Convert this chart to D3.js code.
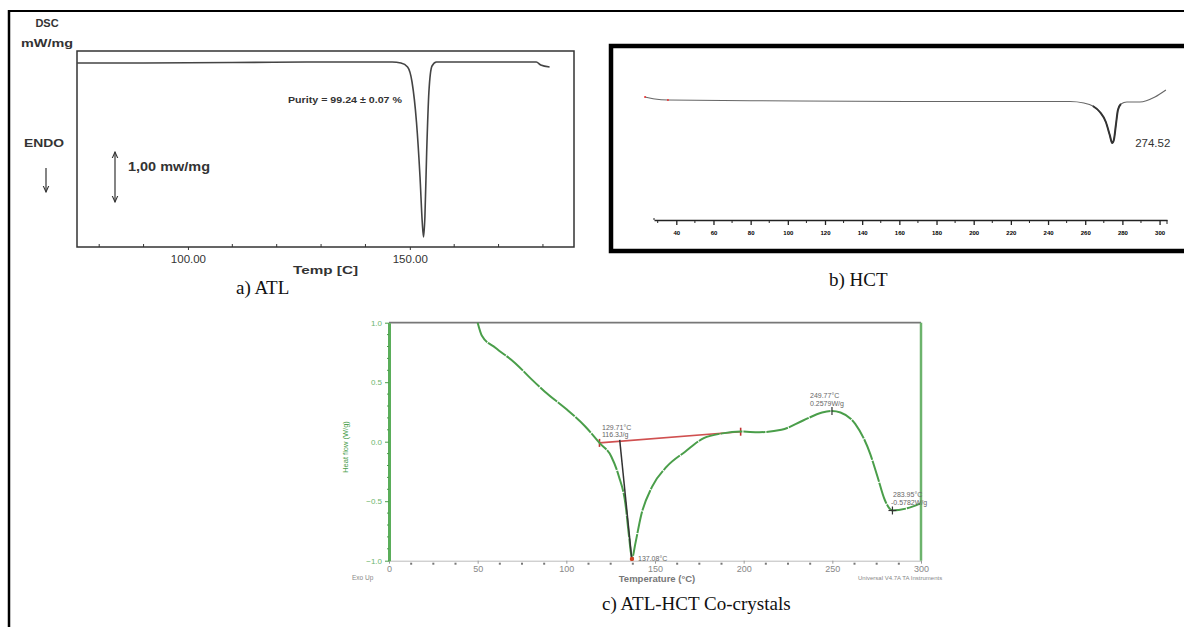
<!DOCTYPE html>
<html>
<head>
<meta charset="utf-8">
<title>DSC thermograms</title>
<script src="https://cdn.jsdelivr.net/npm/d3@7"></script>
<style>
  body { margin: 0; background: #fff; }
  svg { display: block; font-family: "Liberation Sans", Arial, sans-serif; }
  .cap { font-family: "Liberation Serif", "Times New Roman", serif; font-size: 19px; fill: #111; }
</style>
</head>
<body>
<div id="chart"></div>
<script>
// ---- a) ATL ----
const atlTemp = [75, 90, 110, 130, 140, 146, 148, 149.5, 150.5, 151.5, 152.3, 152.8, 153.1, 153.4, 153.8, 154.3, 155, 156, 165, 178.5, 179.5, 181.5];
const atlFlow = [-0.02, -0.02, -0.01, 0, 0, 0, -0.02, -0.1, -0.4, -1.2, -2.3, -3.2, -3.5, -3.1, -1.8, -0.6, -0.08, 0, 0, 0, -0.06, -0.1];
const atlTicks = [100, 150];
const atlMinor = [80, 90, 110, 120, 130, 140, 160, 170, 180];

// ---- b) HCT ----
const hctTemp = [23.2, 28.5, 35.5, 106.5, 187.2, 251.8, 259.3, 264.1, 267.9, 271.1, 273.2, 274.5, 275.4, 276.5, 277.6, 279.2, 282.4, 289.4, 297.5, 303.4];
const hctFlow = [0.3, 0.1, 0, -0.1, -0.15, -0.15, -0.3, -0.6, -1.2, -2.2, -3.5, -4.3, -4.0, -2.5, -1.0, -0.4, -0.2, -0.2, 0.3, 1.0];
const hctTicks = [40, 60, 80, 100, 120, 140, 160, 180, 200, 220, 240, 260, 280, 300];
const hctMinor = [30, 50, 70, 90, 110, 130, 150, 170, 190, 210, 230, 250, 270, 290];
const hctPeak = ["274.52"];

// ---- c) ATL-HCT co-crystals ----
const coTemp = [50, 52.4, 60, 71.2, 80, 87.9, 100.3, 110.8, 118.7, 125.4, 129.6, 133.3, 135.4, 137.0, 139, 142, 148.3, 156.6, 167, 177.5, 188, 198.4, 208.8, 221.3, 233.8, 244.2, 249.8, 254.6, 262.9, 271.3, 275.4, 279.6, 283.9, 292.1, 299.4];
const coFlow = [1.0, 0.89, 0.79, 0.66, 0.53, 0.42, 0.27, 0.126, -0.01, -0.126, -0.29, -0.52, -0.80, -0.98, -0.85, -0.63, -0.38, -0.21, -0.084, 0.03, 0.07, 0.085, 0.08, 0.10, 0.18, 0.245, 0.258, 0.245, 0.15, -0.10, -0.29, -0.49, -0.578, -0.56, -0.52];
const coXTicks = [0, 50, 100, 150, 200, 250, 300];
const coYTicks = [1.0, 0.5, 0.0, -0.5, -1.0];
const baseTemp = [118.7, 198.3];
const baseFlow = [-0.01, 0.084];
const onsetTemp = [130.1, 137.0];
const onsetFlow = [0.015, -1.0];
const peakTemp = [249.8, 283.9];
const peakFlow = [0.258, -0.578];
const peakLabels = [["249.77°C", "0.2579W/g"], ["283.95°C", "-0.5782W/g"]];
const onsetLabels = ["129.71°C", "116.3J/g"];
const minLabel = "137.08°C";

const W = 1184, H = 627;
const svg = d3.select("#chart").append("svg").attr("width", W).attr("height", H);
const defs = svg.append("defs");
defs.append("marker").attr("id", "arr").attr("viewBox", "0 0 10 10")
  .attr("refX", 9).attr("refY", 5).attr("markerWidth", 6).attr("markerHeight", 6)
  .attr("orient", "auto-start-reverse")
  .append("path").attr("d", "M0,1 L9,5 L0,9").attr("fill", "none").attr("stroke", "#333").attr("stroke-width", 1.5);

// outer frame
svg.append("line").attr("x1", 8).attr("x2", W).attr("y1", 11).attr("y2", 11).attr("stroke", "#000").attr("stroke-width", 2);
svg.append("line").attr("x1", 9).attr("x2", 9).attr("y1", 10).attr("y2", H).attr("stroke", "#000").attr("stroke-width", 2.5);

// ================= a) ATL =================
{
  const x = d3.scaleLinear().domain([75, 187]).range([77, 574]);
  const y = d3.scaleLinear().domain([-3.7, 0.22]).range([247, 51]);
  const g = svg.append("g");
  g.append("rect").attr("x", x(75)).attr("y", y(0.22))
    .attr("width", x(187) - x(75)).attr("height", y(-3.7) - y(0.22))
    .attr("fill", "none").attr("stroke", "#333").attr("stroke-width", 1.5);

  const ax = g.append("g").attr("transform", `translate(0,${y(-3.7)})`)
    .call(d3.axisBottom(x).tickValues(atlTicks).tickFormat(d3.format(".2f")).tickSize(3).tickSizeOuter(0));
  ax.select(".domain").remove();
  ax.selectAll("text").attr("font-size", 11.5).attr("fill", "#333").attr("dy", "0.9em");
  ax.selectAll("line").attr("stroke", "#333");
  g.selectAll(".mt").data(atlMinor).enter().append("line")
    .attr("x1", d => x(d)).attr("x2", d => x(d))
    .attr("y1", y(-3.7)).attr("y2", y(-3.7) - 3).attr("stroke", "#333");

  const line = d3.line().x(d => x(d[0])).y(d => y(d[1])).curve(d3.curveMonotoneX);
  g.append("path").datum(atlTemp.map((t, i) => [t, atlFlow[i]]))
    .attr("d", line).attr("fill", "none").attr("stroke", "#444").attr("stroke-width", 1.6);

  g.append("text").attr("x", 47).attr("y", 27).attr("text-anchor", "middle")
    .attr("font-size", 11).attr("font-weight", "bold").attr("fill", "#333").text("DSC");
  g.append("text").attr("x", 47).attr("y", 47).attr("text-anchor", "middle")
    .attr("font-size", 11).attr("font-weight", "bold").attr("fill", "#333")
    .attr("textLength", 52).attr("lengthAdjust", "spacingAndGlyphs").text("mW/mg");
  g.append("text").attr("x", 44).attr("y", 147).attr("text-anchor", "middle")
    .attr("font-size", 11).attr("font-weight", "bold").attr("fill", "#333")
    .attr("textLength", 40).attr("lengthAdjust", "spacingAndGlyphs").text("ENDO");
  g.append("line").attr("x1", 46).attr("x2", 46).attr("y1", 168).attr("y2", 192)
    .attr("stroke", "#333").attr("stroke-width", 1.2).attr("marker-end", "url(#arr)");
  g.append("line").attr("x1", 115).attr("x2", 115).attr("y1", y(-1.8)).attr("y2", y(-2.8))
    .attr("stroke", "#333").attr("stroke-width", 1.2)
    .attr("marker-start", "url(#arr)").attr("marker-end", "url(#arr)");
  g.append("text").attr("x", 128).attr("y", 171)
    .attr("font-size", 12).attr("font-weight", "bold").attr("fill", "#333")
    .attr("textLength", 82).attr("lengthAdjust", "spacingAndGlyphs").text("1,00 mw/mg");
  g.append("text").attr("x", 288).attr("y", 103)
    .attr("font-size", 8.5).attr("font-weight", "bold").attr("fill", "#333")
    .attr("textLength", 114).attr("lengthAdjust", "spacingAndGlyphs").text("Purity = 99.24 ± 0.07 %");
  g.append("text").attr("x", 293).attr("y", 274)
    .attr("font-size", 11).attr("font-weight", "bold").attr("fill", "#333")
    .attr("textLength", 65).attr("lengthAdjust", "spacingAndGlyphs").text("Temp  [C]");
  g.append("text").attr("class", "cap").attr("x", 236).attr("y", 294).text("a) ATL");
}

// ================= b) HCT =================
{
  const x = d3.scaleLinear().domain([28, 304]).range([654, 1167]);
  const y = d3.scaleLinear().domain([-12, 5]).range([220, 50]);
  const g = svg.append("g");
  g.append("rect").attr("x", 611).attr("y", 46).attr("width", 620).attr("height", 205)
    .attr("fill", "none").attr("stroke", "#000").attr("stroke-width", 4.5);

  const ax = g.append("g").attr("transform", `translate(0,${y(-12)})`)
    .call(d3.axisBottom(x).tickValues(hctTicks).tickFormat(d3.format("d")).tickSize(5).tickSizeOuter(0));
  ax.select(".domain").attr("stroke", "#222").attr("stroke-width", 1.3);
  ax.selectAll("line").attr("stroke", "#222").attr("stroke-width", 1.3);
  ax.selectAll("text").attr("font-size", 6).attr("font-weight", "bold").attr("fill", "#000").attr("dy", "1.1em");
  g.selectAll(".mt").data(hctMinor.filter(d => d >= 28)).enter().append("line")
    .attr("x1", d => x(d)).attr("x2", d => x(d))
    .attr("y1", y(-12)).attr("y2", y(-12) + 3).attr("stroke", "#222");
  g.append("line").attr("x1", x(28)).attr("x2", x(28)).attr("y1", y(-12)).attr("y2", y(-12) - 2).attr("stroke", "#222");
  g.append("line").attr("x1", x(304)).attr("x2", x(304)).attr("y1", y(-12)).attr("y2", y(-12) + 4).attr("stroke", "#222");

  const line = d3.line().x(d => x(d[0])).y(d => y(d[1])).curve(d3.curveMonotoneX);
  g.append("path").datum(hctTemp.map((t, i) => [t, hctFlow[i]]))
    .attr("d", line).attr("fill", "none").attr("stroke", "#666").attr("stroke-width", 1.1);
  const pk = hctFlow.indexOf(d3.min(hctFlow));
  g.append("path").datum(hctTemp.map((t, i) => [t, hctFlow[i]]).slice(pk - 4, pk + 5))
    .attr("d", line).attr("fill", "none").attr("stroke", "#333").attr("stroke-width", 2);
  g.append("circle").attr("cx", x(hctTemp[0])).attr("cy", y(hctFlow[0])).attr("r", 1).attr("fill", "#e33");
  g.append("circle").attr("cx", x(hctTemp[2])).attr("cy", y(hctFlow[2])).attr("r", 1).attr("fill", "#e33");
  g.append("text").attr("x", x(274.5) + 23).attr("y", y(-4.3) + 4)
    .attr("font-size", 11.5).attr("fill", "#333").text(hctPeak[0]);
  g.append("text").attr("class", "cap").attr("x", 829).attr("y", 286).text("b) HCT");
}

// ================= c) ATL-HCT co-crystals =================
{
  const x = d3.scaleLinear().domain([0, 300]).range([389, 921]);
  const y = d3.scaleLinear().domain([-1, 1]).range([560.7, 322.7]);
  const green = "#4a9e4a";
  const g = svg.append("g");

  // bottom axis
  const ax = g.append("g").attr("transform", `translate(0,${y(-1)})`)
    .call(d3.axisBottom(x).tickValues(coXTicks).tickFormat(d3.format("d")).tickSize(3).tickSizeOuter(0));
  ax.select(".domain").attr("stroke", "#bbb");
  ax.selectAll("line").attr("stroke", "#999");
  ax.selectAll("text").attr("font-size", 9).attr("fill", "#888").attr("dy", "0.55em");
  g.selectAll(".xm").data(d3.range(0, 300, 12.5).filter(d => d % 50 !== 0)).enter().append("rect")
    .attr("x", d => x(d) - 1).attr("y", y(-1) + 2).attr("width", 2).attr("height", 2).attr("fill", "#777");

  // top and right frame
  g.append("line").attr("x1", x(0)).attr("x2", x(300)).attr("y1", y(1)).attr("y2", y(1)).attr("stroke", "#777").attr("stroke-width", 1.8);
  g.append("line").attr("x1", x(300)).attr("x2", x(300)).attr("y1", y(1)).attr("y2", y(-1)).attr("stroke", "#6cb36c").attr("stroke-width", 2.5);

  // left axis
  const ay = g.append("g").attr("transform", `translate(${x(0)},0)`)
    .call(d3.axisLeft(y).tickValues(coYTicks).tickFormat(d3.format(".1f")).tickSize(4).tickSizeOuter(0));
  ay.select(".domain").attr("stroke", "#5aad5a").attr("stroke-width", 3);
  ay.selectAll("line").attr("stroke", green);
  ay.selectAll("text").attr("font-size", 8).attr("fill", "#6db56d");
  g.selectAll(".ym").data(d3.range(-1, 1.001, 0.1).filter(d => Math.abs(d * 2 - Math.round(d * 2)) > 0.01)).enter().append("line")
    .attr("x1", x(0) - 2).attr("x2", x(0)).attr("y1", d => y(d)).attr("y2", d => y(d)).attr("stroke", green);
  g.append("text").attr("transform", `translate(348,447) rotate(-90)`).attr("text-anchor", "middle")
    .attr("font-size", 7.5).attr("fill", green).text("Heat flow (W/g)");

  // red baseline and black onset line
  g.append("line").attr("x1", x(baseTemp[0])).attr("x2", x(baseTemp[1]))
    .attr("y1", y(baseFlow[0])).attr("y2", y(baseFlow[1])).attr("stroke", "#d05050").attr("stroke-width", 1.6);
  baseTemp.forEach((t, i) => g.append("line").attr("x1", x(t)).attr("x2", x(t))
    .attr("y1", y(baseFlow[i]) - 4).attr("y2", y(baseFlow[i]) + 4).attr("stroke", "#c03030").attr("stroke-width", 1.6));

  const line = d3.line().x(d => x(d[0])).y(d => y(d[1])).curve(d3.curveMonotoneX);
  g.append("path").datum(coTemp.map((t, i) => [t, coFlow[i]]))
    .attr("d", line).attr("fill", "none").attr("stroke", green).attr("stroke-width", 2)
    .attr("stroke-dasharray", "22,1");

  g.append("line").attr("x1", x(onsetTemp[0])).attr("x2", x(onsetTemp[1]))
    .attr("y1", y(onsetFlow[0])).attr("y2", y(onsetFlow[1])).attr("stroke", "#333").attr("stroke-width", 1.5);
  g.append("circle").attr("cx", x(137.0)).attr("cy", y(-0.985)).attr("r", 2.2).attr("fill", "#d04020");

  // peak markers
  peakTemp.forEach((t, i) => {
    g.append("line").attr("x1", x(t)).attr("x2", x(t)).attr("y1", y(peakFlow[i]) - 4).attr("y2", y(peakFlow[i]) + 4).attr("stroke", "#333").attr("stroke-width", 1.2);
    if (i === 1) g.append("line").attr("x1", x(t) - 4).attr("x2", x(t) + 4).attr("y1", y(peakFlow[i])).attr("y2", y(peakFlow[i])).attr("stroke", "#333").attr("stroke-width", 1.2);
  });

  const note = (tx, ty, s) => g.append("text").attr("x", tx).attr("y", ty)
    .attr("font-size", 7).attr("fill", "#666").text(s);
  note(602, 430, onsetLabels[0]);
  note(602, 437, onsetLabels[1]);
  note(638, 561, minLabel);
  note(810, 398, peakLabels[0][0]);
  note(810, 406, peakLabels[0][1]);
  note(893, 497, peakLabels[1][0]);
  note(891, 505, peakLabels[1][1]);

  g.append("text").attr("x", 657).attr("y", 582).attr("text-anchor", "middle")
    .attr("font-size", 9.5).attr("font-weight", "bold").attr("fill", "#777").text("Temperature (°C)");
  g.append("text").attr("x", 352).attr("y", 580).attr("font-size", 6.5).attr("fill", "#888").text("Exo Up");
  g.append("text").attr("x", 858).attr("y", 580).attr("font-size", 6).attr("fill", "#888").text("Universal V4.7A TA Instruments");
  g.append("text").attr("class", "cap").attr("x", 602).attr("y", 610).text("c) ATL-HCT Co-crystals");
}
</script>
</body>
</html>
